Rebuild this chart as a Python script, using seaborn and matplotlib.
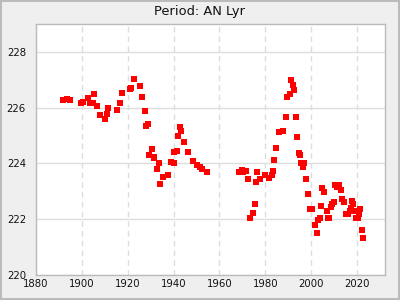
import matplotlib
matplotlib.use("Agg")
import matplotlib.pyplot as plt
import seaborn as sns
import pandas as pd
from matplotlib.ticker import MultipleLocator

years = [1891.8, 1893.7, 1894.8, 1899.8, 1900.6, 1902.6, 1903.7, 1904.8, 1905.4, 1906.5,
         1907.8, 1910.4, 1910.9, 1911.3, 1915.6, 1916.5, 1917.8, 1920.9, 1921.5, 1922.6,
         1925.6, 1926.5, 1927.8, 1928.2, 1928.7, 1929.5, 1930.8, 1931.3, 1931.7, 1932.6,
         1933.9, 1934.3, 1935.6, 1937.4, 1938.7, 1940.0, 1940.4, 1941.7, 1942.1, 1943.0,
         1943.4, 1944.7, 1946.5, 1948.6, 1950.0, 1951.7, 1952.6, 1954.7, 1968.6, 1969.7,
         1970.4, 1971.7, 1972.5, 1973.3, 1974.7, 1975.6, 1976.0, 1976.4, 1977.7, 1979.9,
         1981.7, 1982.9, 1983.4, 1983.8, 1984.7, 1986.0, 1987.7, 1989.0, 1989.5, 1990.8,
         1991.2, 1992.1, 1992.5, 1993.4, 1993.8, 1994.7, 1995.1, 1995.5, 1996.4, 1996.9,
         1997.7, 1998.6, 1999.5, 2000.3, 2001.6, 2002.5, 2002.9, 2003.8, 2004.2, 2004.7,
         2005.5, 2006.8, 2007.2, 2007.7, 2008.6, 2009.0, 2009.9, 2010.3, 2011.2, 2012.0,
         2012.9, 2013.3, 2014.2, 2015.1, 2016.0, 2016.7, 2017.3, 2017.7, 2018.1, 2019.0,
         2019.4, 2020.3, 2020.7, 2021.2, 2022.0, 2022.5]
periods = [226.27, 226.31, 226.27, 226.18, 226.20, 226.35, 226.18, 226.18, 226.49, 226.06,
           225.74, 225.61, 225.78, 225.99, 225.92, 226.17, 226.53, 226.67, 226.71, 227.03,
           226.78, 226.38, 225.88, 225.35, 225.42, 224.31, 224.53, 224.20, 224.24, 223.81,
           224.03, 223.28, 223.53, 223.60, 224.06, 224.03, 224.42, 224.45, 224.99, 225.31,
           225.17, 224.78, 224.42, 224.10, 223.95, 223.88, 223.81, 223.70, 223.70, 223.78,
           223.70, 223.74, 223.45, 222.03, 222.24, 222.53, 223.35, 223.70, 223.45, 223.60,
           223.49, 223.60, 223.74, 224.13, 224.56, 225.13, 225.17, 225.67, 226.38, 226.49,
           226.99, 226.81, 226.63, 225.67, 224.95, 224.38, 224.31, 224.03, 223.88, 224.03,
           223.45, 222.92, 222.38, 222.38, 221.81, 221.49, 221.99, 222.03, 222.49, 223.13,
           222.99, 222.31, 222.03, 222.06, 222.45, 222.53, 222.60, 223.24, 223.17, 223.24,
           223.06, 222.74, 222.63, 222.20, 222.20, 222.28, 222.42, 222.67, 222.56, 222.28,
           222.03, 222.06, 222.17, 222.38, 221.63, 221.31]

title = "Period: AN Lyr"

df = pd.DataFrame({"year": years, "period": periods})

sns.set_style("white")
plt.rcParams['font.family'] = ['DejaVu Sans']

fig = plt.figure(figsize=(4, 3), dpi=100)
fig.patch.set_facecolor("#efefef")
fig.patch.set_edgecolor("#bbbbbb")
fig.patch.set_linewidth(1.5)
ax = fig.add_axes([0.089, 0.0833, 0.8735, 0.8367])
ax.set_facecolor("white")

sns.scatterplot(data=df, x="year", y="period", marker="s", color="#ff0000",
                s=17, linewidth=0, ax=ax, zorder=3)

ax.set_xlim(1880, 2032)
ax.set_ylim(220, 229)
ax.xaxis.set_major_locator(MultipleLocator(20))
ax.xaxis.set_minor_locator(MultipleLocator(10))
ax.yaxis.set_major_locator(MultipleLocator(2))
ax.yaxis.set_minor_locator(MultipleLocator(1))

ax.grid(axis="y", which="major", color="#dddddd", linestyle="-", linewidth=1)
ax.grid(axis="x", which="major", color="#dddddd", linestyle=(0, (4, 3)), linewidth=1)
ax.set_axisbelow(True)

ax.tick_params(axis="both", which="both", direction="in", color="black",
               labelsize=7.3, labelcolor="#111111")
ax.tick_params(axis="both", which="major", length=4, width=1)
ax.tick_params(axis="both", which="minor", length=3, width=1)
ax.tick_params(axis="y", which="major", pad=7)
ax.tick_params(axis="x", which="major", pad=3)
ax.tick_params(top=False, right=False, which="both")

for sp in ax.spines.values():
    sp.set_color("#bbbbbb")
    sp.set_linewidth(1)

ax.set_xlabel("")
ax.set_ylabel("")
fig.text(0.5, 1 - 11 / 300, title, fontsize=9.4, color="#111111",
         ha="center", va="center")

fig.savefig("out.png", dpi=100, facecolor=fig.get_facecolor(), edgecolor=fig.get_edgecolor())
